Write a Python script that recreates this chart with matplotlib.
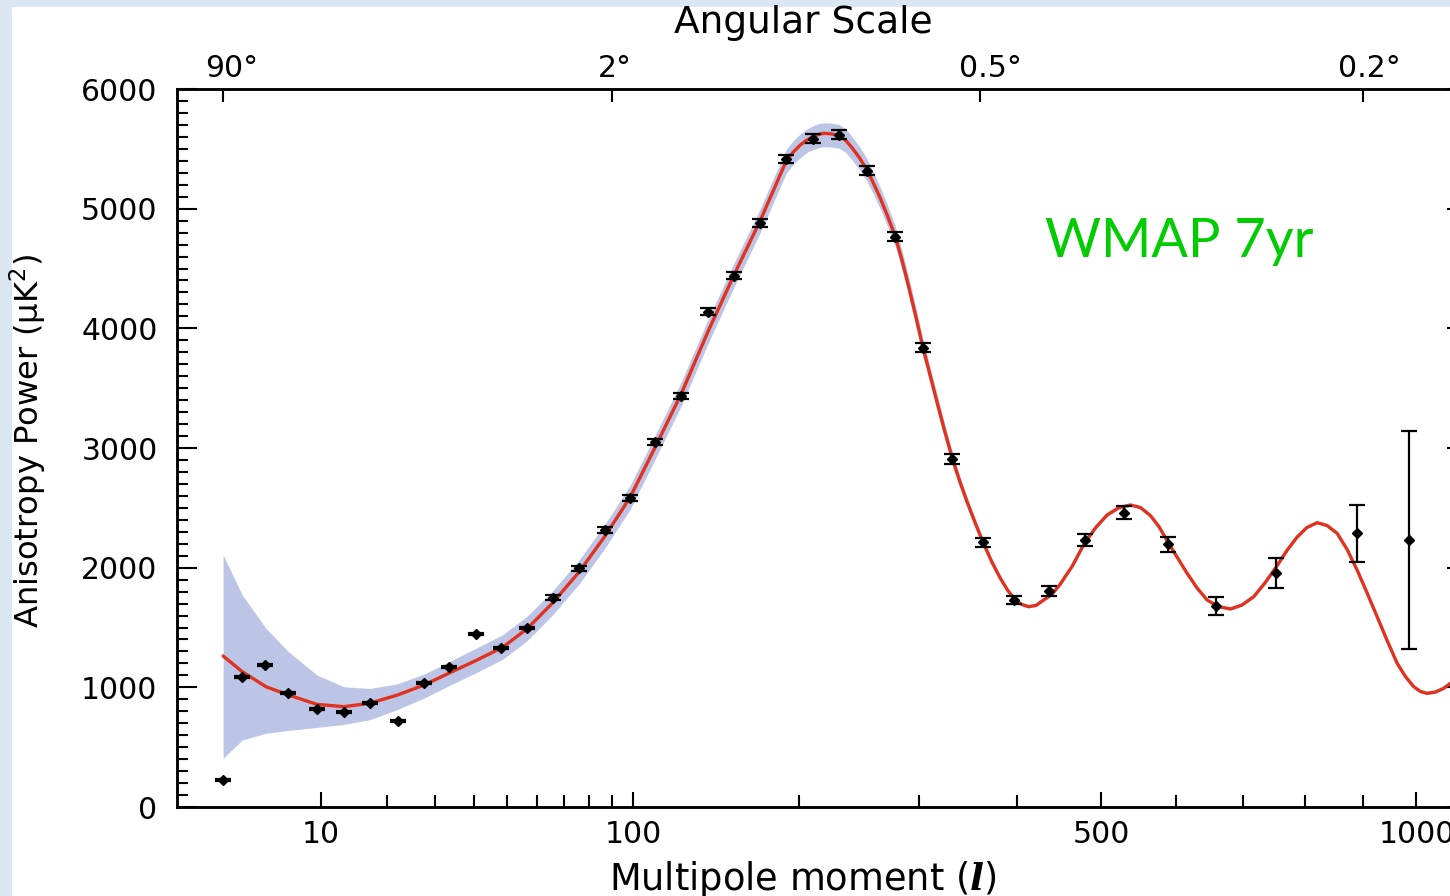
import numpy as np
import matplotlib
matplotlib.use("Agg")
import matplotlib.pyplot as plt
from matplotlib.patches import Rectangle
from matplotlib.ticker import FixedLocator, MultipleLocator
from matplotlib import font_manager as fm

# ---------------- data ----------------
data_l = [2, 3, 4.5, 6.5, 9.5, 13, 17, 22, 27.5, 33.5, 40.5, 48, 56.5,
          65.6, 76, 87, 98.7, 111, 125, 140, 156, 173, 191, 211, 231, 254,
          278.5, 304, 332, 363, 397, 436, 480, 529, 588.5, 659, 752, 890, 985]
data_power = [226, 1084, 1187, 950, 816, 791, 869, 719, 1039, 1167, 1443, 1331, 1498,
              1749, 1995, 2315, 2585, 3053, 3432, 4139, 4440, 4878, 5417, 5585, 5618, 5317,
              4766, 3838, 2908, 2212, 1730, 1805, 2231, 2459, 2195, 1680, 1953, 2287, 2231]
data_err = [8, 8, 8, 8, 8, 8, 8, 8, 8, 8, 8, 8, 8,
            22, 22, 24, 24, 25, 26, 28, 30, 32, 34, 36, 38, 38,
            38, 38, 38, 39, 33, 43, 51, 53, 63, 77, 125, 237, 908]

curve_l = [2, 3, 4.6, 6.5, 9.5, 13, 17, 22, 27.5, 33.5, 40.5, 48.5, 56.5,
           65.6, 76, 87.1, 98.7, 111.1, 124.9, 140.1, 155.8, 172.7, 181.8, 191.1,
           196.2, 201.3, 206.2, 211.2, 215.0, 218.8, 224.8, 231.1, 236.4, 241.6,
           247.7, 253.9, 259.5, 265.2, 271.8, 278.5, 284.3, 290.2, 296.9, 303.8,
           310.5, 317.4, 324.7, 332.4, 339.6, 346.9, 355.1, 363.4, 372.5, 381.8,
           389.9, 398.1, 405.4, 413.0, 421.5, 430.2, 439.7, 449.8, 464.2, 479.2,
           493.2, 507.4, 522.0, 537.7, 551.1, 564.6, 576.3, 588.5, 602.1, 616.0,
           630.5, 645.1, 661.9, 680.1, 697.8, 716.1, 733.9, 752.4, 769.5, 786.4,
           802.8, 820.1, 837.2, 854.6, 872.2, 890.0, 908.0, 926.3, 944.7, 963.4,
           979.1, 994.9, 1007.8, 1020.8, 1037.0, 1053.3, 1066.7, 1100]
curve_power = [1262, 1131, 1005, 936, 858, 838, 867, 936, 1019, 1120, 1223, 1335, 1490,
               1705, 1964, 2265, 2590, 3008, 3451, 3969, 4437, 4888, 5143, 5398,
               5473, 5532, 5574, 5603, 5620, 5630, 5625, 5611, 5570, 5507,
               5423, 5323, 5210, 5089, 4934, 4766, 4575, 4362, 4107, 3838,
               3610, 3376, 3138, 2905, 2720, 2551, 2377, 2212, 2051, 1911,
               1809, 1730, 1692, 1674, 1685, 1730, 1776, 1864, 2014, 2206,
               2336, 2440, 2499, 2524, 2503, 2436, 2344, 2217, 2085, 1953,
               1830, 1730, 1675, 1655, 1688, 1757, 1872, 2008, 2143, 2256,
               2336, 2376, 2352, 2287, 2152, 1980, 1788, 1590, 1391, 1201,
               1090, 1005, 965, 950, 961, 992, 1034, 1130]
band_upper = [2106, 1772, 1493, 1298, 1103, 1005, 990, 1030, 1110, 1215, 1325, 1440, 1595,
              1805, 2064, 2365, 2690, 3108, 3551, 4069, 4537, 4988, 5243, 5495,
              5568, 5625, 5666, 5695, 5710, 5718, 5715, 5703, 5665, 5600,
              5517, 5418, 5302, 5179, 5022, 4851, 4657, 4442, 4185, 3913,
              3680, 3441, 3198, 2960, 2765, 2591, 2412, 2242, 2076, 1931,
              1824, 1742, 1702, 1684, 1695, 1740, 1786, 1874, 2024, 2216,
              2346, 2452, 2511, 2536, 2515, 2446, 2354, 2227, 2095, 1963,
              1840, 1740, 1685, 1665, 1698, 1767, 1882, 2018, 2153, 2266,
              2346, 2386, 2362, 2297, 2162, 1990, 1798, 1600, 1401, 1211,
              1100, 1015, 975, 960, 971, 1002, 1044, 1140]
band_lower = [407, 560, 616, 640, 665, 690, 730, 815, 910, 1015, 1120, 1235, 1390,
              1605, 1864, 2165, 2490, 2908, 3351, 3869, 4337, 4788, 5043, 5295,
              5373, 5425, 5472, 5495, 5510, 5518, 5515, 5505, 5470, 5405,
              5325, 5228, 5118, 4999, 4846, 4681, 4493, 4282, 4029, 3763,
              3540, 3311, 3078, 2850, 2675, 2511, 2342, 2182, 2026, 1891,
              1794, 1718, 1682, 1664, 1675, 1720, 1766, 1854, 2004, 2196,
              2326, 2428, 2487, 2512, 2491, 2426, 2334, 2207, 2075, 1943,
              1820, 1720, 1665, 1645, 1678, 1747, 1862, 1998, 2133, 2246,
              2326, 2366, 2342, 2277, 2142, 1970, 1778, 1580, 1381, 1191,
              1080, 995, 955, 940, 951, 982, 1024, 1120]

bottom_ticks = [10, 100, 500, 1000]
bottom_labels = ["10", "100", "500", "1000"]
bottom_minor = [20, 30, 40, 50, 60, 70, 80, 90, 200, 300, 400, 600, 700, 800, 900]
top_ticks = [2, 90, 360, 900]
top_labels = ["90°", "2°", "0.5°", "0.2°"]
top_label_shift_px = [9, 3, 11, 7]
y_ticks = [0, 1000, 2000, 3000, 4000, 5000, 6000]

# ---------------- styling ----------------
plt.rcParams["font.family"] = ["DejaVu Sans"]
plt.rcParams["mathtext.fontset"] = "custom"
plt.rcParams["mathtext.rm"] = "DejaVu Sans"
plt.rcParams["mathtext.it"] = "DejaVu Sans:italic"
plt.rcParams["mathtext.bf"] = "DejaVu Sans:bold"
has_bfit = "mathtext.bfit" in plt.rcParams
if has_bfit:
    plt.rcParams["mathtext.bfit"] = "DejaVu Serif:italic:bold"

W, H = 1450, 896
fig = plt.figure(figsize=(W / 100, H / 100), dpi=100)
fig.patch.set_facecolor("#dce6f2")
fig.add_artist(Rectangle((12 / W, 0), 1, 1 - 7 / H, transform=fig.transFigure,
                         facecolor="white", edgecolor="none", zorder=-5))

ax = fig.add_axes([177 / W, 1 - 807 / H, (1467 - 177) / W, (807 - 89) / H])
ax.set_facecolor("white")


def fwd(x):
    x = np.asarray(x, dtype=float)
    return np.sign(x) * np.abs(x) ** 0.4


def inv(y):
    y = np.asarray(y, dtype=float)
    return np.sign(y) * np.abs(y) ** 2.5


ax.set_xscale("function", functions=(fwd, inv))
ax2 = ax.twiny()
ax2.set_xscale("function", functions=(fwd, inv))

ax.fill_between(curve_l, band_lower, band_upper, color="#bcc5e5", lw=0, zorder=1)
ax.plot(curve_l, curve_power, color="#e0321f", lw=2.4, zorder=2,
        solid_capstyle="round", solid_joinstyle="round")
ax.errorbar(data_l, data_power, yerr=data_err, fmt="D", color="black", ms=5.0,
            elinewidth=1.6, capsize=5.5, capthick=1.6, zorder=3)

ax.set_xlim(0.5, 1100)
ax.set_ylim(0, 6000)
ax2.set_xlim(0.5, 1100)

ax.xaxis.set_major_locator(FixedLocator(bottom_ticks))
ax.set_xticklabels(bottom_labels)
ax.xaxis.set_minor_locator(FixedLocator(bottom_minor))
ax.set_yticks(y_ticks)
ax.set_yticklabels([str(v) for v in y_ticks])
ax.yaxis.set_minor_locator(MultipleLocator(100))

ax.tick_params(axis="both", which="both", direction="in", top=False, right=True,
               width=1.5, colors="black")
ax.tick_params(axis="x", which="major", length=10.8, pad=9.0, labelsize=21.5)
ax.tick_params(axis="x", which="minor", length=8.4)
ax.tick_params(axis="y", which="major", length=14.4, pad=14.0, labelsize=21.5)
ax.tick_params(axis="y", which="minor", length=8.0)

# top (angular scale) axis: ticks on the twin, labels placed with the number centred on the tick
ax2.xaxis.set_major_locator(FixedLocator(top_ticks))
ax2.xaxis.set_minor_locator(FixedLocator([]))
ax2.tick_params(axis="x", which="major", direction="in", length=9.4, width=1.5,
                labeltop=False)
for t, lab, dx in zip(top_ticks, top_labels, top_label_shift_px):
    ax2.annotate(lab, xy=(t, 1), xycoords=("data", "axes fraction"),
                 xytext=(dx, 6), textcoords="offset pixels",
                 ha="center", va="bottom", fontsize=21.5, annotation_clip=False)

for a in (ax, ax2):
    for s in a.spines.values():
        s.set_linewidth(1.8)

# texts
fig.text(803.5 / W, 1 - 33 / H, "Angular Scale", fontsize=27, ha="center", va="baseline")
if has_bfit:
    xlab = r"Multipole moment ($\mathbfit{l}$)"
else:
    xlab = r"Multipole moment ($\mathbf{l}$)"
fig.text(802.5 / W, 1 - 890 / H, xlab, fontsize=26.5, ha="center", va="baseline")
fig.text(39 / W, 1 - 441 / H, r"Anisotropy Power (μK$^{2}$)", fontsize=23.2,
         rotation=90, rotation_mode="anchor", ha="center", va="baseline")

names = {f.name for f in fm.fontManager.ttflist}
if "Liberation Sans Narrow" in names:
    wfam, wsize = ["Liberation Sans Narrow"], 46
else:
    wfam, wsize = ["Lato", "DejaVu Sans"], 39
fig.text(1045 / W, 1 - 257 / H, "WMAP 7yr", color="#00cc00", fontsize=wsize,
         family=wfam, ha="left", va="baseline")

fig.savefig("out.png", dpi=100, facecolor=fig.get_facecolor())
